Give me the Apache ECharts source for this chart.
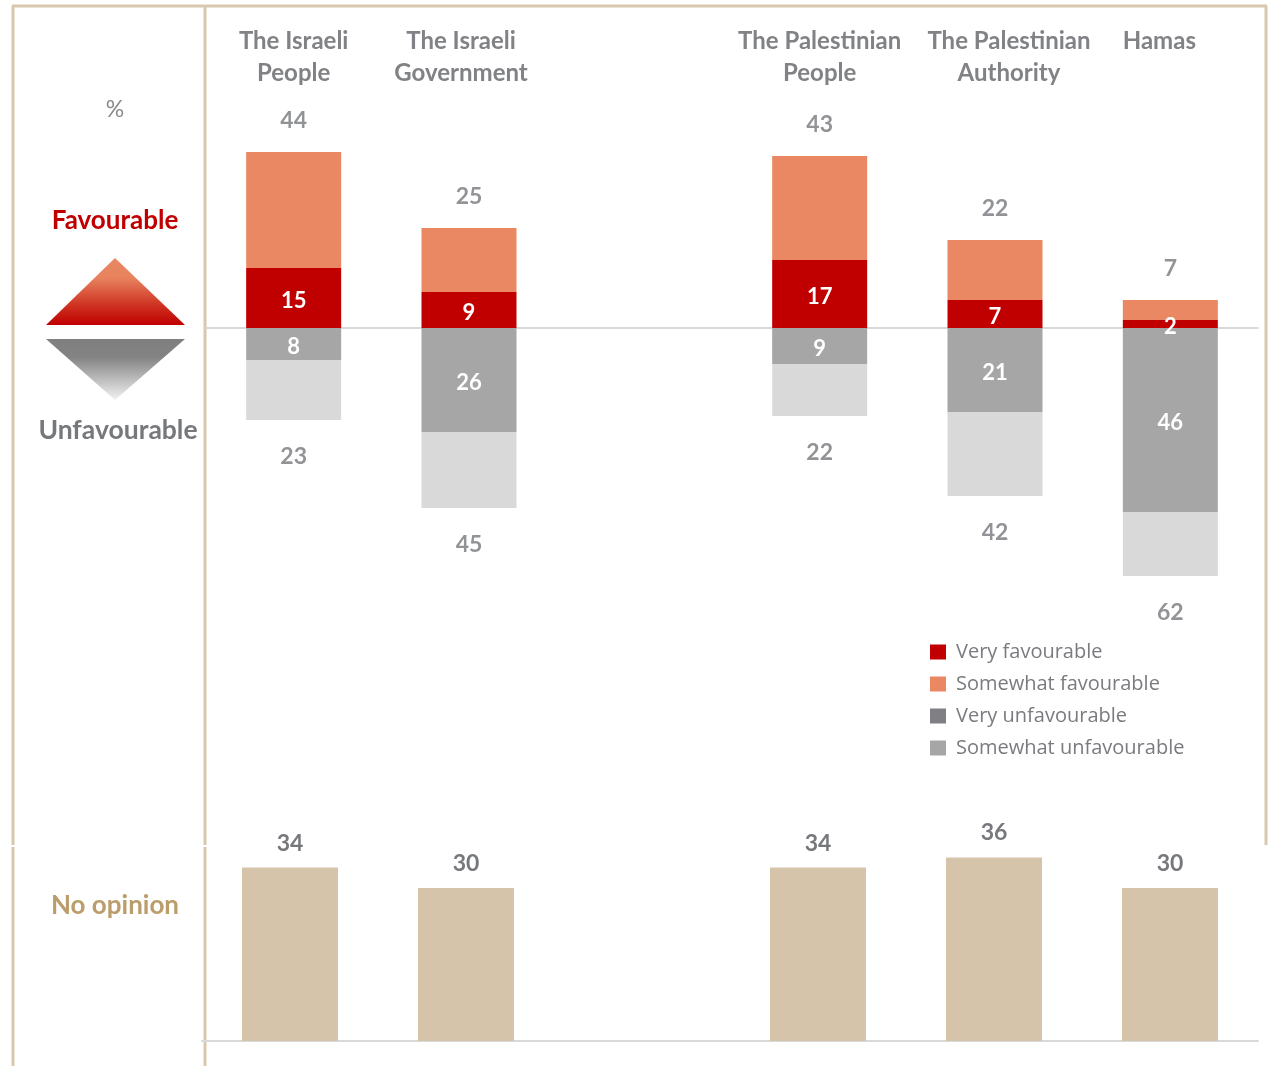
<!DOCTYPE html>
<html><head><meta charset="utf-8">
<script src="https://cdn.jsdelivr.net/npm/echarts@6/dist/echarts.min.js"></script>
<style>html,body{margin:0;padding:0;background:#fff}#c{width:1272px;height:1066px}</style>
</head><body><div id="c"></div>
<script>
const categories = ['The Israeli\nPeople','The Israeli\nGovernment','','The Palestinian\nPeople','The Palestinian\nAuthority','Hamas'];
const veryFav = [15, 9, null, 17, 7, 2];
const somewhatFav = [29, 16, null, 26, 15, 5];
const veryUnfav = [8, 26, null, 9, 21, 46];
const somewhatUnfav = [15, 19, null, 13, 21, 16];
const noOpinion = [34, 30, null, 34, 36, 30];
const seriesNames = ['Very favourable','Somewhat favourable','Very unfavourable','Somewhat unfavourable'];

const favTotal = veryFav.map((v,i)=> v==null?null:v+somewhatFav[i]);
const unfavTotal = veryUnfav.map((v,i)=> v==null?null:-(v+somewhatUnfav[i]));
const neg = a => a.map(v => v==null?null:-v);

const FONT = 'Lato';
const GREY = '#76787c';
const BEIGE = '#d8c8ad';

// horizontal nudges of the header labels (style only)
const headerPad = [[0,0,0,0],[0,16,0,0],[0,0,0,0],[0,0,0,0],[0,0,0,28],[0,22,0,0]];
const headerData = categories.map((c,i)=>({value:c, textStyle:{padding:headerPad[i], verticalAlign:'top'}}));

const chart = echarts.init(document.getElementById('c'));
const innerLabel = {show:true, position:'inside', offset:[0,3], color:'#fff', fontFamily:FONT, fontWeight:'bold', fontSize:22,
  formatter: p => Math.abs(p.value)};

function vline(x, y1, y2){ return {type:'line', shape:{x1:x,y1:y1,x2:x,y2:y2}, style:{stroke:BEIGE, lineWidth:3}, silent:true}; }

chart.setOption({
  animation:false,
  textStyle:{fontFamily:FONT},
  grid:[
    {left:206, right:14, top:128, height:480, containLabel:false, outerBoundsMode:'none'},
    {left:202, right:14, top:837, height:204, containLabel:false, outerBoundsMode:'none'}
  ],
  legend:{
    orient:'vertical', left:925, top:637, itemGap:12, itemWidth:16, itemHeight:15, icon:'rect',
    textStyle:{fontFamily:'"Open Sans"', fontSize:20, color:'#7a7b7f', padding:[0,0,0,5]},
    data:[
      {name:seriesNames[0], itemStyle:{color:'#c00000'}},
      {name:seriesNames[1], itemStyle:{color:'#e98862'}},
      {name:seriesNames[2], itemStyle:{color:'#7f7f84'}},
      {name:seriesNames[3], itemStyle:{color:'#a6a6a6'}}
    ]
  },
  xAxis:[
    {type:'category', gridIndex:0, data:categories, axisLine:{onZero:true, lineStyle:{color:'#d9d9d9', width:2}},
      axisTick:{show:false}, axisLabel:{show:false}},
    {type:'category', gridIndex:0, position:'top', data:headerData, axisLine:{show:false}, axisTick:{show:false},
      axisLabel:{show:true, verticalAlign:'top', margin:103, lineHeight:32, fontFamily:FONT, fontWeight:'bold', fontSize:24, color:'#808285', interval:0, hideOverlap:false}},
    {type:'category', gridIndex:1, data:categories, axisLine:{lineStyle:{color:'#d9d9d9', width:2}}, axisTick:{show:false}, axisLabel:{show:false}}
  ],
  yAxis:[
    {type:'value', gridIndex:0, min:-70, max:50, show:false, splitLine:{show:false}},
    {type:'value', gridIndex:1, min:0, max:40, show:false, splitLine:{show:false}}
  ],
  series:[
    {name:seriesNames[0], type:'bar', stack:'s', xAxisIndex:0, yAxisIndex:0, barWidth:95, data:veryFav,
      itemStyle:{color:'#c00000'}, label:innerLabel},
    {name:seriesNames[1], type:'bar', stack:'s', xAxisIndex:0, yAxisIndex:0, barWidth:95, data:somewhatFav,
      itemStyle:{color:'#e98862'}},
    {name:seriesNames[2], type:'bar', stack:'s', xAxisIndex:0, yAxisIndex:0, barWidth:95, data:neg(veryUnfav),
      itemStyle:{color:'#a6a6a6'}, label:innerLabel},
    {name:seriesNames[3], type:'bar', stack:'s', xAxisIndex:0, yAxisIndex:0, barWidth:95, data:neg(somewhatUnfav),
      itemStyle:{color:'#d9d9d9'}},
    {name:'favTotal', type:'scatter', xAxisIndex:0, yAxisIndex:0, data:favTotal, symbolSize:1, itemStyle:{color:'rgba(0,0,0,0)'},
      label:{show:true, position:'top', distance:19, color:GREY, fontFamily:FONT, fontWeight:'bold', fontSize:23, formatter:p=>Math.abs(p.value)}},
    {name:'unfavTotal', type:'scatter', xAxisIndex:0, yAxisIndex:0, data:unfavTotal, symbolSize:1, itemStyle:{color:'rgba(0,0,0,0)'},
      label:{show:true, position:'bottom', distance:25, color:GREY, fontFamily:FONT, fontWeight:'bold', fontSize:23, formatter:p=>Math.abs(p.value)}},
    {name:'No opinion', type:'bar', xAxisIndex:2, yAxisIndex:1, barWidth:96, data:noOpinion,
      itemStyle:{color:'#d5c4a9'},
      label:{show:true, position:'top', distance:13, color:GREY, fontFamily:FONT, fontWeight:'bold', fontSize:23}}
  ],
  graphic:[
    {type:'line', shape:{x1:12,y1:6,x2:1267,y2:6}, style:{stroke:BEIGE, lineWidth:3}, silent:true},
    vline(13,6,845), vline(13,847,1066),
    vline(205,6,845), vline(205,847,1066),
    vline(1266,6,845),
    {type:'text', style:{text:'%', x:115, y:110, fill:'#8a8a8a', font:'23px '+FONT, textAlign:'center', textVerticalAlign:'middle'}},
    {type:'text', style:{text:'Favourable', x:115, y:221, fill:'#c00000', font:'bold 26px '+FONT, textAlign:'center', textVerticalAlign:'middle'}},
    {type:'polygon', shape:{points:[[46,325],[185,325],[115,258]]}, silent:true,
      style:{fill:new echarts.graphic.LinearGradient(0,0,0,1,[{offset:0,color:'#e98862'},{offset:0.3,color:'#e7825d'},{offset:0.75,color:'#cc2a1c'},{offset:1,color:'#c00000'}])}},
    {type:'polygon', shape:{points:[[46,339],[185,339],[115,400]]}, silent:true,
      style:{fill:new echarts.graphic.LinearGradient(0,0,0,1,[{offset:0,color:'#7f7f7f'},{offset:0.3,color:'#838383'},{offset:1,color:'#f2f2f2'}])}},
    {type:'text', style:{text:'Unfavourable', x:118, y:430, fill:'#76787c', font:'bold 26.5px '+FONT, textAlign:'center', textVerticalAlign:'middle'}},
    {type:'text', style:{text:'No opinion', x:115, y:906, fill:'#bb9d6c', font:'bold 26px '+FONT, textAlign:'center', textVerticalAlign:'middle'}}
  ]
});
</script>
</body></html>
